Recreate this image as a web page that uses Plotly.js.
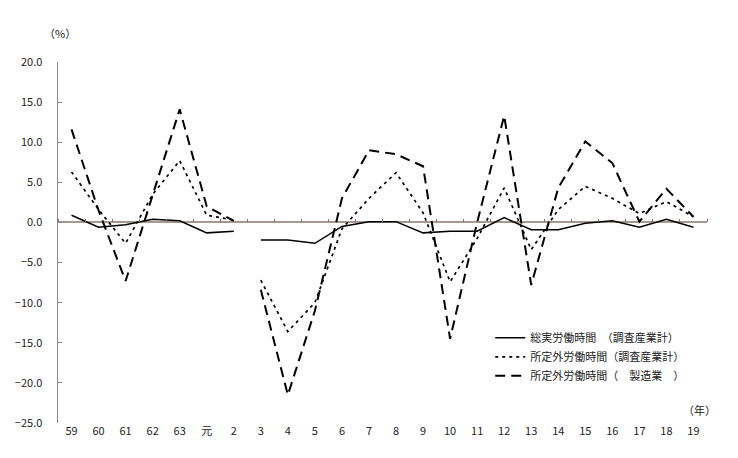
<!DOCTYPE html>
<html>
<head>
<meta charset="utf-8">
<script src="https://cdn.plot.ly/plotly-3.0.1.min.js"></script>
<style>html,body{margin:0;padding:0;background:#fff;}#chart{width:738px;height:458px;}</style>
</head>
<body>
<div id="chart"></div>
<script>
// Categories (年)
const years = ['59','60','61','62','63','元','2','3','4','5','6','7','8','9','10','11','12','13','14','15','16','17','18','19'];
// 総実労働時間（調査産業計）
const totalHours = [0.9,-0.6,-0.3,0.4,0.2,-1.3,-1.1,-2.2,-2.2,-2.6,-0.5,0.1,0.1,-1.3,-1.1,-1.1,0.6,-0.9,-0.9,-0.1,0.2,-0.6,0.4,-0.6];
// 所定外労働時間（調査産業計）
const overtimeAll = [6.3,1.6,-2.6,3.5,7.7,0.9,0.3,-7.2,-13.6,-10.0,-0.8,3.0,6.2,1.2,-7.4,-2.0,4.3,-3.4,1.6,4.5,3.0,1.1,2.6,0.7];
// 所定外労働時間（製造業）
const overtimeMfg = [11.6,1.5,-7.3,3.5,14.1,2.0,0.2,-8.4,-21.5,-11.0,3.0,9.0,8.5,7.0,-14.5,0.0,13.3,-7.8,4.3,10.1,7.4,0.1,4.2,0.7];
// series break (data not continuous between "2" and "3")
const breakAfter = '2';
const names = ['総実労働時間　（調査産業計）','所定外労働時間（調査産業計）','所定外労働時間（　製造業　）'];

const styles = [
  {color:'#000', width:1.5, dash:'solid'},
  {color:'#000', width:1.7, dash:'3px,4px'},
  {color:'#000', width:2, dash:'10px,6px'}
];
const series = [totalHours, overtimeAll, overtimeMfg];
const bi = years.indexOf(breakAfter);
const traces = [];
series.forEach((vals, s) => {
  const segs = [[0, bi], [bi+1, years.length-1]];
  segs.forEach((sg, k) => {
    traces.push({
      type:'scatter', mode:'lines',
      x: years.slice(sg[0], sg[1]+1),
      y: vals.slice(sg[0], sg[1]+1),
      name: names[s], legendgroup: 'g'+s, showlegend: k===0,
      line: styles[s], hoverinfo:'skip'
    });
  });
});
// invisible trace on xaxis2 for tick marks on the zero line
traces.push({type:'scatter', mode:'none', x: years, y: years.map(()=>0), xaxis:'x2', showlegend:false, hoverinfo:'skip'});

const font = {family:'"Noto Sans CJK JP", "DejaVu Sans", sans-serif', size:11, color:'#222'};
const layout = {
  width:738, height:458,
  margin:{l:58, r:31, t:62, b:35},
  paper_bgcolor:'#fff', plot_bgcolor:'#fff',
  font: font,
  showlegend:true,
  legend:{x:0.666, y:0.276, xanchor:'left', yanchor:'top', bgcolor:'rgba(0,0,0,0)', font:{family:font.family, size:11, color:'#222'}, tracegroupgap:0},
  xaxis:{type:'category', categoryorder:'array', categoryarray: years, range:[-0.5, 23.5],
    showline:false, showgrid:false, zeroline:false, ticks:'', tickfont:{family:font.family,size:11,color:'#222'}, fixedrange:true},
  xaxis2:{type:'category', categoryorder:'array', categoryarray: years, range:[-0.5, 23.5], overlaying:'x', anchor:'free', position: 25/45,
    side:'top', showline:false, showgrid:false, zeroline:false, showticklabels:false, ticks:'outside', ticklen:3, tickcolor:'#777', tickson:'boundaries'},
  yaxis:{range:[-25, 20], dtick:5, tickformat:'.1f', showline:true, linecolor:'#888', linewidth:1.5,
    ticks:'inside', ticklen:4, tickcolor:'#888', showgrid:false,
    zeroline:true, zerolinecolor:'#a89890', zerolinewidth:2, ticklabelstandoff:12,
    tickfont:{family:font.family,size:11,color:'#222'}},
  annotations:[
    {text:'（%）', xref:'paper', yref:'paper', x:0.003, y:1.08, xanchor:'center', yanchor:'middle', showarrow:false, font:font},
    {text:'（年）', xref:'paper', yref:'paper', x:0.988, y:0.035, xanchor:'center', yanchor:'middle', showarrow:false, font:font}
  ]
};
Plotly.newPlot('chart', traces, layout, {displayModeBar:false, staticPlot:true});
</script>
</body>
</html>
